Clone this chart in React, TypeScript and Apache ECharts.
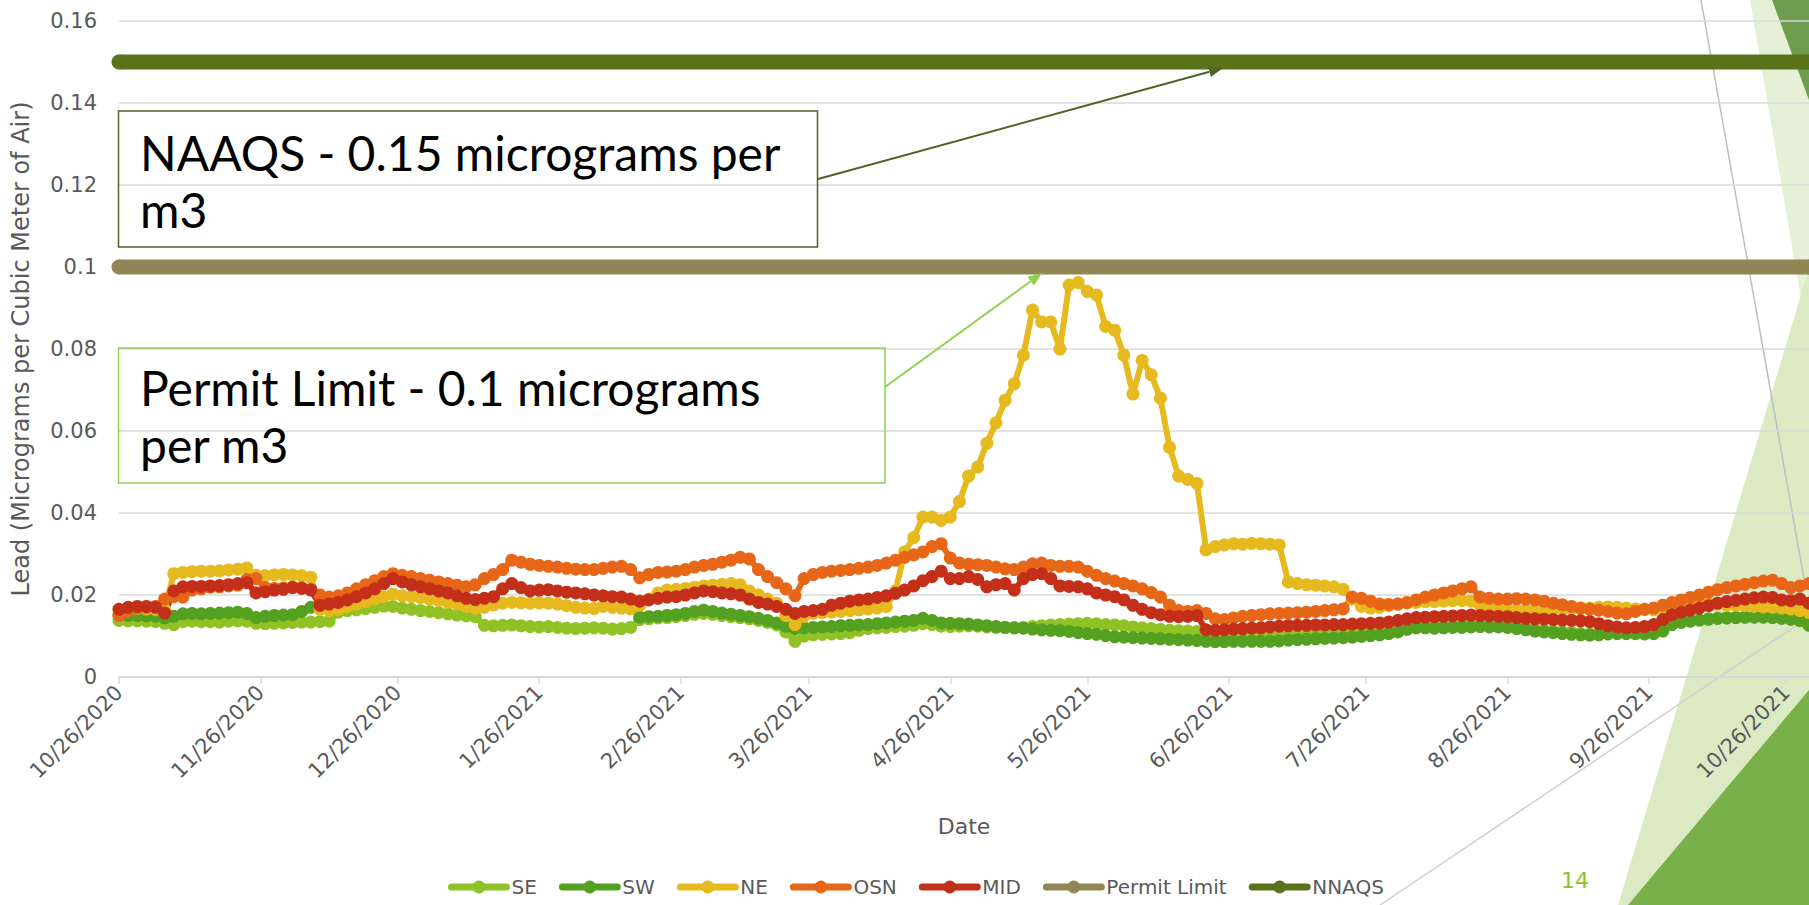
import React, { useEffect, useRef } from "react";
import * as echarts from "echarts";

// ---------- data ----------
const START_DATE = "10/26/2020";
const END_DATE = "10/31/2021";
const TICK_DATES = [
  "10/26/2020", "11/26/2020", "12/26/2020", "1/26/2021", "2/26/2021", "3/26/2021",
  "4/26/2021", "5/26/2021", "6/26/2021", "7/26/2021", "8/26/2021", "9/26/2021", "10/26/2021",
];
const SAMPLE_STEP_DAYS = 2; // one reading every 2 days from START_DATE

const SE = [
  0.0138, 0.0137, 0.0137, 0.0136, 0.0135, 0.0131, 0.0128, 0.0135, 0.0136, 0.0135,
  0.0135, 0.0134, 0.0136, 0.0137, 0.0136, 0.0131, 0.0130, 0.0131, 0.0132, 0.0133,
  0.0134, 0.0134, 0.0135, 0.0136, 0.0158, 0.0162, 0.0164, 0.0167, 0.0170, 0.0173,
  0.0172, 0.0168, 0.0165, 0.0162, 0.0160, 0.0157, 0.0154, 0.0151, 0.0149, 0.0147,
  0.0126, 0.0125, 0.0126, 0.0127, 0.0125, 0.0123, 0.0122, 0.0123, 0.0121, 0.0119,
  0.0118, 0.0119, 0.0120, 0.0119, 0.0117, 0.0118, 0.0121, 0.0140, 0.0142, 0.0144,
  0.0145, 0.0147, 0.0150, 0.0153, 0.0155, 0.0153, 0.0150, 0.0147, 0.0145, 0.0142,
  0.0138, 0.0133, 0.0127, 0.0110, 0.0087, 0.0100, 0.0103, 0.0104, 0.0105, 0.0106,
  0.0108, 0.0114, 0.0118, 0.0120, 0.0121, 0.0123, 0.0124, 0.0126, 0.0130, 0.0128,
  0.0124, 0.0123, 0.0124, 0.0125, 0.0124, 0.0122, 0.0121, 0.0121, 0.0120, 0.0121,
  0.0123, 0.0125, 0.0127, 0.0128, 0.0129, 0.0130, 0.0131, 0.0130, 0.0128, 0.0127,
  0.0125, 0.0122, 0.0120, 0.0118, 0.0116, 0.0114, 0.0113, 0.0112, 0.0111, 0.0100,
  0.0098, 0.0097, 0.0096, 0.0096, 0.0097, 0.0098, 0.0098, 0.0099, 0.0100, 0.0101,
  0.0102, 0.0103, 0.0104, 0.0105, 0.0106, 0.0107, 0.0108, 0.0110, 0.0112, 0.0114,
  0.0116, 0.0120, 0.0123, 0.0124, 0.0125, 0.0125, 0.0124, 0.0125, 0.0127, 0.0126,
  0.0124, 0.0124, 0.0125, 0.0122, 0.0119, 0.0116, 0.0114, 0.0112, 0.0110, 0.0108,
  0.0106, 0.0105, 0.0106, 0.0107, 0.0108, 0.0108, 0.0109, 0.0110, 0.0111, 0.0118,
  0.0130, 0.0134, 0.0137, 0.0139, 0.0141, 0.0143, 0.0144, 0.0145, 0.0146, 0.0147,
  0.0147, 0.0146, 0.0144, 0.0141, 0.0137, 0.0130,
];

const SW = [
  0.0151, 0.0150, 0.0150, 0.0149, 0.0148, 0.0144, 0.0148, 0.0154, 0.0155, 0.0154,
  0.0155, 0.0156, 0.0157, 0.0158, 0.0155, 0.0145, 0.0148, 0.0150, 0.0151, 0.0152,
  0.0160, 0.0170, null, null, null, null, null, null, null, null,
  null, null, null, null, null, null, null, null, null, null,
  null, null, null, null, null, null, null, null, null, null,
  null, null, null, null, null, null, null, 0.0146, 0.0147, 0.0148,
  0.0150, 0.0152, 0.0155, 0.0160, 0.0163, 0.0160, 0.0156, 0.0153, 0.0150, 0.0147,
  0.0143, 0.0138, 0.0132, 0.0124, 0.0118, 0.0120, 0.0121, 0.0122, 0.0123, 0.0125,
  0.0126, 0.0127, 0.0128, 0.0130, 0.0132, 0.0134, 0.0136, 0.0138, 0.0143, 0.0138,
  0.0132, 0.0131, 0.0130, 0.0129, 0.0127, 0.0125, 0.0123, 0.0121, 0.0120, 0.0119,
  0.0117, 0.0115, 0.0114, 0.0113, 0.0111, 0.0108, 0.0106, 0.0104, 0.0101, 0.0098,
  0.0097, 0.0096, 0.0095, 0.0094, 0.0093, 0.0092, 0.0091, 0.0090, 0.0089, 0.0087,
  0.0086, 0.0086, 0.0087, 0.0087, 0.0087, 0.0087, 0.0087, 0.0088, 0.0090, 0.0091,
  0.0092, 0.0093, 0.0094, 0.0095, 0.0096, 0.0097, 0.0099, 0.0101, 0.0103, 0.0106,
  0.0110, 0.0116, 0.0120, 0.0120, 0.0119, 0.0120, 0.0121, 0.0121, 0.0122, 0.0123,
  0.0122, 0.0122, 0.0121, 0.0118, 0.0115, 0.0112, 0.0110, 0.0108, 0.0106, 0.0104,
  0.0103, 0.0102, 0.0103, 0.0105, 0.0106, 0.0106, 0.0106, 0.0105, 0.0106, 0.0112,
  0.0128, 0.0133, 0.0136, 0.0139, 0.0141, 0.0143, 0.0144, 0.0145, 0.0146, 0.0146,
  0.0146, 0.0145, 0.0143, 0.0141, 0.0138, 0.0126,
];

const NE = [
  0.0165, 0.0166, 0.0167, 0.0166, 0.0165, 0.0165, 0.0252, 0.0255, 0.0257, 0.0258,
  0.0258, 0.0259, 0.0261, 0.0263, 0.0266, 0.0248, 0.0247, 0.0249, 0.0250, 0.0249,
  0.0247, 0.0243, 0.0165, 0.0162, 0.0165, 0.0172, 0.0178, 0.0184, 0.0190, 0.0196,
  0.0202, 0.0198, 0.0196, 0.0194, 0.0190, 0.0186, 0.0182, 0.0178, 0.0172, 0.0168,
  0.0170, 0.0176, 0.0180, 0.0182, 0.0181, 0.0180, 0.0181, 0.0180, 0.0178, 0.0174,
  0.0170, 0.0168, 0.0167, 0.0172, 0.0170, 0.0168, 0.0166, 0.0175, 0.0190, 0.0205,
  0.0212, 0.0214, 0.0216, 0.0219, 0.0222, 0.0224, 0.0226, 0.0228, 0.0225, 0.0210,
  0.0200, 0.0190, 0.0180, 0.0150, 0.0128, 0.0148, 0.0155, 0.0157, 0.0158, 0.0160,
  0.0162, 0.0164, 0.0166, 0.0168, 0.0172, 0.0210, 0.0305, 0.0340, 0.0390, 0.0390,
  0.0382, 0.0390, 0.0428, 0.0490, 0.0512, 0.0570, 0.0620, 0.0675, 0.0715, 0.0785,
  0.0895, 0.0866, 0.0866, 0.0800, 0.0956, 0.0962, 0.0940, 0.0932, 0.0855, 0.0846,
  0.0785, 0.0690, 0.0772, 0.0737, 0.0680, 0.0560, 0.0490, 0.0482, 0.0472, 0.0310,
  0.0318, 0.0322, 0.0325, 0.0324, 0.0326, 0.0325, 0.0324, 0.0322, 0.0232, 0.0228,
  0.0225, 0.0224, 0.0222, 0.0220, 0.0214, 0.0190, 0.0172, 0.0168, 0.0170, 0.0174,
  0.0178, 0.0180, 0.0182, 0.0184, 0.0184, 0.0185, 0.0186, 0.0186, 0.0185, 0.0175,
  0.0170, 0.0168, 0.0166, 0.0164, 0.0163, 0.0163, 0.0164, 0.0165, 0.0165, 0.0166,
  0.0167, 0.0168, 0.0170, 0.0171, 0.0170, 0.0168, 0.0166, 0.0165, 0.0164, 0.0166,
  0.0170, 0.0172, 0.0175, 0.0178, 0.0179, 0.0178, 0.0176, 0.0175, 0.0174, 0.0172,
  0.0171, 0.0170, 0.0168, 0.0166, 0.0162, 0.0158,
];

const OSN = [
  0.0150, 0.0162, 0.0168, 0.0170, 0.0172, 0.0190, 0.0196, 0.0195, 0.0212, 0.0215,
  0.0219, 0.0220, 0.0222, 0.0224, 0.0238, 0.0240, 0.0218, 0.0216, 0.0217, 0.0219,
  0.0218, 0.0214, 0.0200, 0.0195, 0.0198, 0.0205, 0.0215, 0.0225, 0.0235, 0.0245,
  0.0252, 0.0248, 0.0245, 0.0240, 0.0236, 0.0232, 0.0228, 0.0224, 0.0220, 0.0225,
  0.0240, 0.0250, 0.0262, 0.0285, 0.0280, 0.0275, 0.0272, 0.0270, 0.0268, 0.0265,
  0.0263, 0.0262, 0.0262, 0.0265, 0.0268, 0.0270, 0.0262, 0.0242, 0.0250, 0.0255,
  0.0256, 0.0258, 0.0262, 0.0268, 0.0272, 0.0275, 0.0280, 0.0285, 0.0292, 0.0288,
  0.0262, 0.0245, 0.0230, 0.0215, 0.0198, 0.0240, 0.0250, 0.0255, 0.0258, 0.0260,
  0.0262, 0.0265, 0.0268, 0.0272, 0.0278, 0.0285, 0.0292, 0.0298, 0.0305, 0.0318,
  0.0325, 0.0290, 0.0278, 0.0275, 0.0274, 0.0272, 0.0268, 0.0264, 0.0262, 0.0268,
  0.0276, 0.0278, 0.0272, 0.0270, 0.0270, 0.0268, 0.0258, 0.0248, 0.0240, 0.0234,
  0.0228, 0.0222, 0.0215, 0.0206, 0.0195, 0.0175, 0.0162, 0.0160, 0.0162, 0.0155,
  0.0142, 0.0140, 0.0144, 0.0148, 0.0150, 0.0152, 0.0154, 0.0155, 0.0156, 0.0157,
  0.0158, 0.0160, 0.0162, 0.0164, 0.0166, 0.0195, 0.0192, 0.0185, 0.0178, 0.0177,
  0.0178, 0.0182, 0.0188, 0.0195, 0.0200, 0.0205, 0.0210, 0.0215, 0.0220, 0.0195,
  0.0192, 0.0190, 0.0190, 0.0191, 0.0190, 0.0188, 0.0185, 0.0180, 0.0176, 0.0172,
  0.0168, 0.0165, 0.0163, 0.0160, 0.0156, 0.0154, 0.0160, 0.0165, 0.0168, 0.0175,
  0.0182, 0.0188, 0.0194, 0.0200, 0.0207, 0.0213, 0.0218, 0.0222, 0.0226, 0.0230,
  0.0234, 0.0236, 0.0228, 0.0218, 0.0222, 0.0228,
];

const MID = [
  0.0165, 0.0170, 0.0172, 0.0172, 0.0170, 0.0156, 0.0210, 0.0220, 0.0221, 0.0221,
  0.0222, 0.0223, 0.0225, 0.0228, 0.0230, 0.0205, 0.0208, 0.0212, 0.0214, 0.0218,
  0.0216, 0.0212, 0.0175, 0.0178, 0.0182, 0.0188, 0.0196, 0.0205, 0.0215, 0.0228,
  0.0240, 0.0232, 0.0225, 0.0220, 0.0215, 0.0210, 0.0205, 0.0198, 0.0192, 0.0189,
  0.0192, 0.0196, 0.0215, 0.0228, 0.0218, 0.0210, 0.0212, 0.0213, 0.0210, 0.0207,
  0.0205, 0.0203, 0.0200, 0.0198, 0.0196, 0.0195, 0.0190, 0.0185, 0.0188, 0.0192,
  0.0195, 0.0196, 0.0200, 0.0205, 0.0210, 0.0208, 0.0205, 0.0203, 0.0200, 0.0190,
  0.0182, 0.0178, 0.0172, 0.0165, 0.0155, 0.0160, 0.0162, 0.0165, 0.0175, 0.0180,
  0.0185, 0.0188, 0.0190, 0.0194, 0.0198, 0.0204, 0.0212, 0.0222, 0.0235, 0.0245,
  0.0258, 0.0240, 0.0240, 0.0245, 0.0238, 0.0220, 0.0225, 0.0228, 0.0212, 0.0240,
  0.0250, 0.0252, 0.0240, 0.0222, 0.0221, 0.0220, 0.0215, 0.0205, 0.0200, 0.0196,
  0.0188, 0.0175, 0.0165, 0.0157, 0.0152, 0.0148, 0.0147, 0.0148, 0.0150, 0.0115,
  0.0114, 0.0115, 0.0117, 0.0118, 0.0119, 0.0120, 0.0122, 0.0124, 0.0125, 0.0126,
  0.0126, 0.0127, 0.0127, 0.0128, 0.0128, 0.0129, 0.0130, 0.0131, 0.0132, 0.0134,
  0.0138, 0.0142, 0.0145, 0.0146, 0.0147, 0.0148, 0.0149, 0.0150, 0.0151, 0.0150,
  0.0149, 0.0148, 0.0147, 0.0145, 0.0143, 0.0142, 0.0141, 0.0140, 0.0139, 0.0138,
  0.0137, 0.0135, 0.0130, 0.0125, 0.0122, 0.0120, 0.0121, 0.0123, 0.0128, 0.0140,
  0.0152, 0.0158, 0.0163, 0.0168, 0.0174, 0.0180, 0.0184, 0.0187, 0.0190, 0.0193,
  0.0195, 0.0194, 0.0188, 0.0186, 0.0190, 0.0180,
];

const PERMIT_LIMIT = 0.1;
const NAAQS = 0.15;

const SERIES_NAMES = ["SE", "SW", "NE", "OSN", "MID", "Permit Limit", "NNAQS"];
const COLORS = ["#90C226", "#54A021", "#E6B91E", "#E76618", "#C42F1A", "#918655", "#587318"];

const Y_MIN = 0;
const Y_MAX = 0.16;
const Y_INTERVAL = 0.02;

// ---------- helpers ----------
function parseMDY(s: string) {
  const [m, d, y] = s.split("/").map(Number);
  return Date.UTC(y, m - 1, d);
}
function dayOffset(s: string) {
  return Math.round((parseMDY(s) - parseMDY(START_DATE)) / 86400000);
}
const TICK_DAYS = TICK_DATES.map(dayOffset);
const X_MAX = dayOffset(END_DATE);

function toPoints(vals: (number | null)[]) {
  return vals.map((v, i) => [i * SAMPLE_STEP_DAYS, v == null ? "-" : v]);
}

function arrow(x1: number, y1: number, x2: number, y2: number, color: string) {
  const dx = x2 - x1, dy = y2 - y1;
  const len = Math.sqrt(dx * dx + dy * dy);
  const ux = dx / len, uy = dy / len;
  const nx = -uy, ny = ux;
  const L = 14, W = 11;
  const bx = x2 - ux * L, by = y2 - uy * L;
  return [
    {
      type: "line",
      shape: { x1, y1, x2: bx, y2: by },
      style: { stroke: color, lineWidth: 2 },
    },
    {
      type: "polygon",
      shape: {
        points: [
          [x2, y2],
          [bx + nx * W / 2, by + ny * W / 2],
          [bx - nx * W / 2, by - ny * W / 2],
        ],
      },
      style: { fill: color },
    },
  ];
}

const AXIS_FONT = "DejaVu Sans";
const BOX_FONT = "Lato";

export default function App() {
  const ref = useRef<HTMLDivElement>(null);
  useEffect(() => {
    if (!ref.current) return;
    const chart = echarts.init(ref.current, null, { renderer: "svg" });

    const valueSeries = [SE, SW, NE, OSN, MID].map((vals, i) => ({
      name: SERIES_NAMES[i],
      type: "line",
      data: toPoints(vals),
      symbol: "circle",
      symbolSize: 13,
      showSymbol: true,
      connectNulls: false,
      lineStyle: { width: 6, color: COLORS[i], cap: "round", join: "round" },
      itemStyle: { color: COLORS[i] },
      emphasis: { disabled: true },
      z: 3,
    }));
    const limitSeries = [PERMIT_LIMIT, NAAQS].map((v, j) => ({
      name: SERIES_NAMES[5 + j],
      type: "line",
      data: [[0, v], [X_MAX, v]],
      symbol: "circle",
      symbolSize: 15,
      lineStyle: { width: 15, color: COLORS[5 + j] },
      itemStyle: { color: COLORS[5 + j] },
      emphasis: { disabled: true },
      z: 4,
    }));

    const decorations = [
      { type: "polygon", shape: { points: [[1750, 0], [1809, 0], [1809, 345]] }, style: { fill: "#E6F0D6" } },
      { type: "polygon", shape: { points: [[1618, 905], [1809, 268], [1809, 905]] }, style: { fill: "#DCEAC3" } },
      { type: "polygon", shape: { points: [[1772, 0], [1809, 0], [1809, 100]] }, style: { fill: "#6E9D50" } },
      { type: "polygon", shape: { points: [[1628, 905], [1809, 690], [1809, 905]] }, style: { fill: "#78B14A" } },
      { type: "line", shape: { x1: 1701, y1: 0, x2: 1806, y2: 590 }, style: { stroke: "#BFBFBF", lineWidth: 1.5 } },
      { type: "line", shape: { x1: 1380, y1: 905, x2: 1809, y2: 617 }, style: { stroke: "#D0D0D0", lineWidth: 1.5 } },
    ].map((e) => ({ ...e, z: -1, silent: true }));

    const annotations = [
      { type: "rect", shape: { x: 118.5, y: 111, width: 699, height: 136 }, style: { fill: "none", stroke: "#4F6228", lineWidth: 1.5 } },
      { type: "text", x: 140, y: 152, style: { text: "NAAQS - 0.15 micrograms per", font: `48px ${BOX_FONT}`, fill: "#000", verticalAlign: "middle" } },
      { type: "text", x: 140, y: 209, style: { text: "m3", font: `48px ${BOX_FONT}`, fill: "#000", verticalAlign: "middle" } },
      { type: "rect", shape: { x: 118.5, y: 348, width: 766.5, height: 135 }, style: { fill: "none", stroke: "#92D050", lineWidth: 1.5 } },
      { type: "text", x: 140, y: 387, style: { text: "Permit Limit - 0.1 micrograms", font: `48px ${BOX_FONT}`, fill: "#000", verticalAlign: "middle" } },
      { type: "text", x: 140, y: 444, style: { text: "per m3", font: `48px ${BOX_FONT}`, fill: "#000", verticalAlign: "middle" } },
      ...arrow(818, 179, 1223, 68, "#4F6228"),
      ...arrow(885, 387, 1042, 273, "#92D050"),
      { type: "text", x: 1575, y: 880, style: { text: "14", font: `22px ${AXIS_FONT}`, fill: "#90C226", align: "center", verticalAlign: "middle" } },
    ].map((e: any) => ({ z: 20, silent: true, ...e }));

    chart.setOption({
      animation: false,
      backgroundColor: "#ffffff",
      grid: { left: 119, right: 0, top: 21, bottom: 228, containLabel: false },
      xAxis: {
        type: "value",
        min: 0,
        max: X_MAX,
        name: "Date",
        nameLocation: "middle",
        nameGap: 138,
        nameTextStyle: { fontFamily: AXIS_FONT, fontSize: 22, color: "#595959" },
        axisLine: { show: true, lineStyle: { color: "#D9D9D9", width: 2 } },
        axisTick: { show: true, customValues: TICK_DAYS, length: 7, lineStyle: { color: "#D9D9D9", width: 1.5 } },
        axisLabel: {
          customValues: TICK_DAYS,
          rotate: 45,
          margin: 12,
          fontFamily: AXIS_FONT,
          fontSize: 21,
          color: "#595959",
          formatter: (v: number) => {
            const idx = TICK_DAYS.indexOf(Math.round(v));
            return idx >= 0 ? TICK_DATES[idx] : "";
          },
        },
        splitLine: { show: false },
      },
      yAxis: {
        type: "value",
        min: Y_MIN,
        max: Y_MAX,
        interval: Y_INTERVAL,
        name: "Lead (Micrograms per Cubic Meter of Air)",
        nameLocation: "middle",
        nameGap: 86,
        nameTextStyle: { fontFamily: AXIS_FONT, fontSize: 24, color: "#595959" },
        axisLine: { show: false },
        axisTick: { show: false },
        axisLabel: { fontFamily: AXIS_FONT, fontSize: 21, color: "#595959", margin: 22 },
        splitLine: { show: true, lineStyle: { color: "#D9D9D9", width: 1.5 } },
      },
      legend: {
        data: SERIES_NAMES,
        left: 443,
        top: 872,
        itemWidth: 55,
        itemHeight: 16,
        itemGap: 22,
        textStyle: { fontFamily: AXIS_FONT, fontSize: 20, lineHeight: 20, color: "#595959" },
        lineStyle: { width: 7, cap: "round" },
        selectedMode: false,
      },
      graphic: [...decorations, ...annotations],
      series: [...valueSeries, ...limitSeries],
    });

    return () => chart.dispose();
  }, []);

  return (
    <div
      ref={ref}
      style={{ position: "absolute", left: 0, top: 0, width: 1809, height: 905, background: "#fff" }}
    />
  );
}
